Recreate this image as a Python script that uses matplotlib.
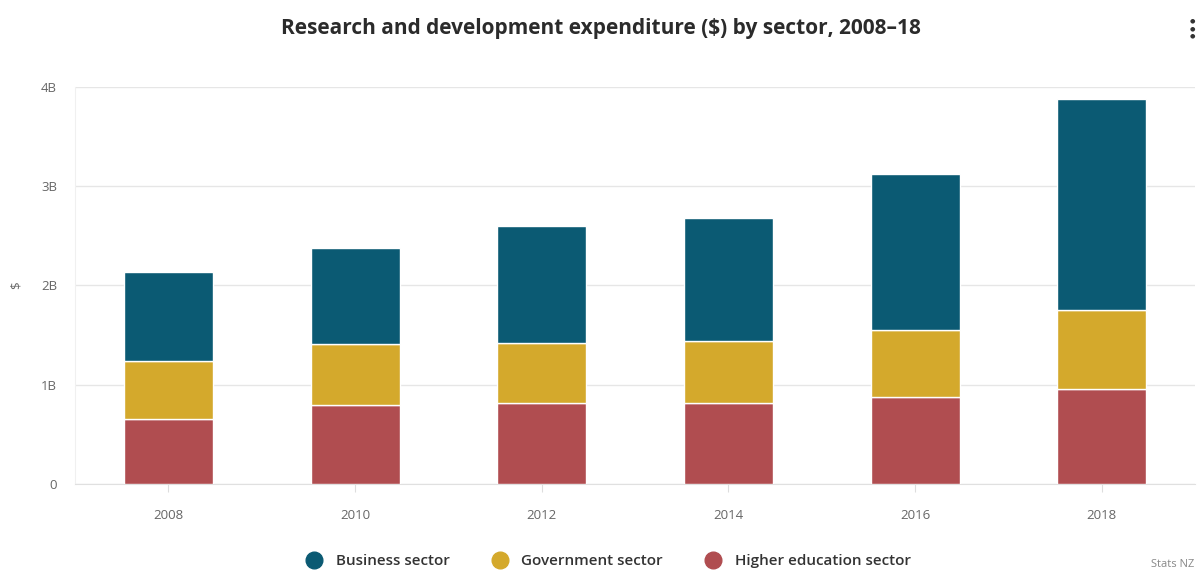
import numpy as np
import matplotlib.pyplot as plt
from matplotlib.lines import Line2D
from matplotlib.ticker import FuncFormatter

plt.rcParams['font.family'] = ['Open Sans', 'DejaVu Sans']

# R&D expenditure by sector, billions of dollars
years = ['2008', '2010', '2012', '2014', '2016', '2018']
higher_education = [0.654, 0.798, 0.815, 0.820, 0.880, 0.956]
government = [0.586, 0.610, 0.610, 0.620, 0.670, 0.794]
business = [0.900, 0.966, 1.175, 1.240, 1.570, 2.130]

sectors = ['Business sector', 'Government sector', 'Higher education sector']
colours = {'Business sector': '#0b5a73',
           'Government sector': '#d4a92c',
           'Higher education sector': '#b04d50'}

fig = plt.figure(figsize=(11.98, 5.73), dpi=100)
ax = fig.add_axes([0.0626, 0.1548, 0.935, 0.694])

x = np.arange(len(years))
width = 0.477
bottom = np.zeros(len(years))
for name, vals in [('Higher education sector', higher_education),
                   ('Government sector', government),
                   ('Business sector', business)]:
    ax.bar(x, vals, width, bottom=bottom, color=colours[name],
           edgecolor='white', linewidth=1.0, zorder=3)
    bottom += np.array(vals)

ax.set_xlim(-0.5, len(years) - 0.5)
ax.set_ylim(0, 4)
ax.set_yticks([0, 1, 2, 3, 4])
ax.yaxis.set_major_formatter(FuncFormatter(lambda v, p: '0' if v == 0 else f'{int(v)}B'))
ax.set_xticks(x)
ax.set_xticklabels(years)
ax.grid(axis='y', color='#e6e6e6', linewidth=1.0, zorder=0)
for side in ['top', 'right']:
    ax.spines[side].set_visible(False)
ax.spines['left'].set_color('#f0f0f0')
ax.spines['bottom'].set_color('#e0e0e0')
ax.tick_params(axis='y', length=0, pad=13, labelsize=9.5, labelcolor='#666666')
ax.tick_params(axis='x', length=6, color='#dddddd', pad=12, labelsize=9.5,
               labelcolor='#666666')
ax.set_ylabel('$', fontsize=9.5, color='#666666', labelpad=2)
ax.yaxis.set_label_coords(-0.047, 0.5)

fig.text(0.502, 0.951, 'Research and development expenditure ($) by sector, 2008\u201318',
         ha='center', va='center', fontsize=15, fontweight='bold', color='#2b2b2b')

# menu dots at top right
for yy in [0.963, 0.950, 0.937]:
    fig.text(0.9955, yy, '\u25cf', ha='center', va='center', fontsize=4.5, color='#333333')

handles = [Line2D([], [], marker='o', linestyle='none', markersize=12,
                  markerfacecolor=colours[s], markeredgecolor=colours[s]) for s in sectors]
fig.legend(handles, sectors, loc='center', bbox_to_anchor=(0.505, 0.021), ncol=3,
           frameon=False, prop={'size': 11, 'weight': 'semibold'}, handletextpad=0.4,
           columnspacing=2.3, labelcolor='#333333')

fig.text(0.997, 0.014, 'Stats NZ', ha='right', va='center', fontsize=8, color='#888888')

fig.savefig('out.png', dpi=100, facecolor='white')
